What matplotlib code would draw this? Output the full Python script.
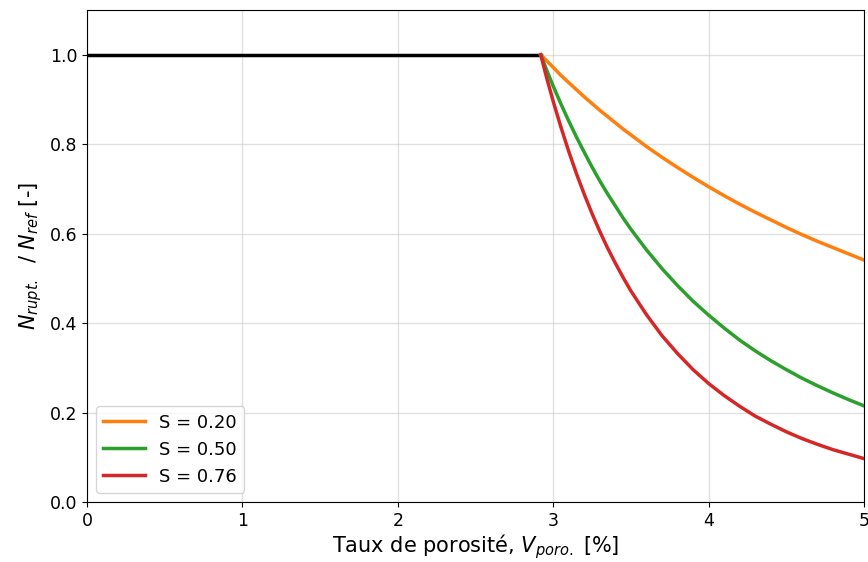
import matplotlib
matplotlib.use("Agg")
import matplotlib.pyplot as plt

# porosity [%] and normalised fatigue life
x_ref = [0.0, 2.92]
y_ref = [1.0, 1.0]

x_pts = [2.92, 2.96, 3.0, 3.05, 3.1, 3.15, 3.2, 3.25, 3.3, 3.35, 3.4, 3.45, 3.5, 3.6,
         3.7, 3.8, 3.9, 4.0, 4.1, 4.2, 4.3, 4.4, 4.5, 4.6, 4.7, 4.8, 4.9, 5.0]
y_s020 = [1.0, 0.986, 0.972, 0.954, 0.938, 0.922, 0.906, 0.891, 0.876, 0.862, 0.848, 0.834, 0.821, 0.795,
          0.771, 0.748, 0.726, 0.705, 0.685, 0.666, 0.648, 0.631, 0.614, 0.598, 0.583, 0.569, 0.555, 0.541]
y_s050 = [1.0, 0.964, 0.930, 0.890, 0.852, 0.816, 0.782, 0.749, 0.718, 0.689, 0.662, 0.635, 0.610, 0.564,
          0.522, 0.484, 0.449, 0.418, 0.389, 0.362, 0.338, 0.316, 0.296, 0.277, 0.260, 0.244, 0.229, 0.215]
y_s076 = [1.0, 0.946, 0.896, 0.838, 0.784, 0.734, 0.688, 0.645, 0.605, 0.568, 0.534, 0.502, 0.472, 0.419,
          0.372, 0.332, 0.296, 0.265, 0.238, 0.214, 0.192, 0.174, 0.157, 0.142, 0.129, 0.117, 0.107, 0.097]
labels = ["S = 0.20", "S = 0.50", "S = 0.76"]

fig = plt.figure(figsize=(8.68, 5.62), dpi=100)
ax = fig.add_axes([0.1002, 0.1068, 0.8952, 0.8752])

ax.plot(x_ref, y_ref, color="black", lw=2.5)
ax.plot(x_pts, y_s020, color="tab:orange", lw=2.5, label=labels[0])
ax.plot(x_pts, y_s050, color="tab:green", lw=2.5, label=labels[1])
ax.plot(x_pts, y_s076, color="tab:red", lw=2.5, label=labels[2])

ax.set_xlim(0, 5)
ax.set_ylim(0, 1.1)
ax.set_yticks([0.0, 0.2, 0.4, 0.6, 0.8, 1.0])
ax.grid(color="#cccccc", lw=1, alpha=0.6)
ax.tick_params(labelsize=12.5)
ax.set_xlabel("Taux de porosité, $V_{poro.}$ [%]", fontsize=15, labelpad=2)
ax.set_ylabel("$N_{rupt.}$  / $N_{ref}$ [-]", fontsize=15)
ax.legend(loc="lower left", fontsize=13, handlelength=2.3)

fig.savefig("out.png", dpi=100)
